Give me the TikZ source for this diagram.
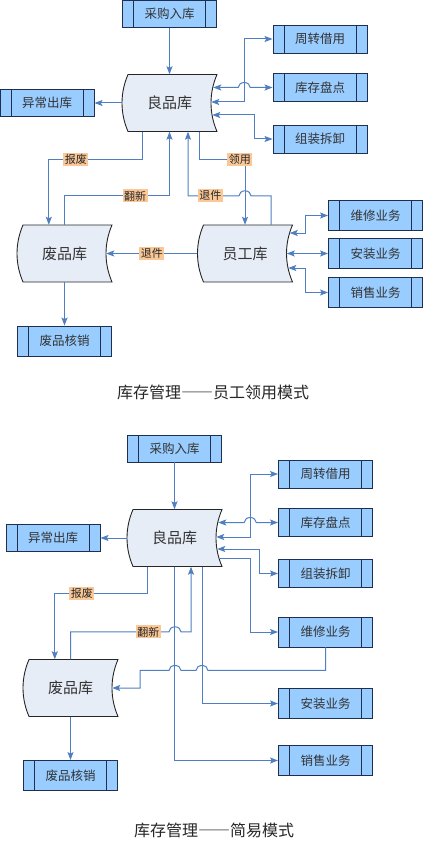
\documentclass[tikz,border=0pt]{standalone}
\usepackage{fontspec}
\setmainfont{Noto Sans CJK SC}
\usepackage{xcolor}
\usepackage{tikz}
\usetikzlibrary{arrows.meta, calc}
\definecolor{procfill}{HTML}{99CCFF}
\definecolor{procdraw}{HTML}{1F2F4F}
\definecolor{storefill}{HTML}{E7EDF7}
\definecolor{flowblue}{HTML}{4F7FC0}
\definecolor{tagorange}{HTML}{FAC796}
\tikzset{
  proc/.style={draw=procdraw, fill=procfill, line width=0.9pt,
    minimum width=94pt, minimum height=28pt, inner sep=0pt,
    text=black!80, font=\fontsize{12.5}{13}\selectfont,
    path picture={
      \draw[procdraw, line width=0.9pt]
        ([xshift=11pt]path picture bounding box.north west) --
        ([xshift=11pt]path picture bounding box.south west)
        ([xshift=-11pt]path picture bounding box.north east) --
        ([xshift=-11pt]path picture bounding box.south east);}},
  lowproc/.style={proc, minimum height=30pt},
  storeshape/.style={draw=black!85, fill=storefill, line width=0.9pt},
  storetext/.style={minimum width=95pt, minimum height=57pt, inner sep=0pt,
    text=black!80, font=\fontsize{15}{16}\selectfont},
  flow/.style={draw=flowblue, line width=1pt},
  tag/.style={fill=tagorange, inner sep=1.5pt, text=black!85,
    font=\fontsize{11}{12}\selectfont},
  caption/.style={text=black!85, font=\fontsize{16}{17}\selectfont}
}
% full width dashes for the captions
\newcommand{\fwdash}{{\addfontfeatures{RawFeature=+fwid}——}}
% stored data shape: name, x, y, text
\newcommand{\storebox}[4]{%
  \filldraw[storeshape] (#2-41.5,#3-28.5) -- (#2+47.5,#3-28.5)
    .. controls (#2+39.5,#3-10) and (#2+39.5,#3+10) .. (#2+47.5,#3+28.5)
    -- (#2-41.5,#3+28.5)
    .. controls (#2-49.5,#3+10) and (#2-49.5,#3-10) .. cycle;
  \node[storetext] (#1) at (#2,#3) {#4};}

\begin{document}
\begin{tikzpicture}[x=1pt, y=-1pt,
    >={Stealth[length=8pt, width=6pt, inset=1.5pt]}]
    \useasboundingbox (0,0) rectangle (424,842);
    % Mode 1: staff stock
    \storebox{lp1}{169.5}{103}{良品库}
    \storebox{fp1}{64.5}{253.5}{废品库}
    \storebox{yg1}{245}{253.5}{员工库}
    \node[proc, minimum height=27pt] (cg1) at (169.5,14) {采购入库};
    \node[proc] (zz1) at (320,39) {周转借用};
    \node[proc] (pd1) at (320,87.5) {库存盘点};
    \node[proc] (zx1) at (320,139) {组装拆卸};
    \node[proc, minimum height=27pt] (yc1) at (47,103) {异常出库};
    \node[lowproc] (wx1) at (375.5,215.5) {维修业务};
    \node[lowproc] (az1) at (375.5,253.5) {安装业务};
    \node[lowproc] (xs1) at (375.5,292.5) {销售业务};
    \node[lowproc] (hx1) at (64.5,341) {废品核销};
    \draw[flow, ->] (cg1.south) -- (lp1.north);
    \draw[flow, ->] (lp1.west) -- (yc1.east);
    \draw[flow, <->] ($(lp1.east)+(-6,-1)$) -- ++(33,0) |- (zz1.west);
    \draw[flow, <->] ($(lp1.east)+(-4,-15.5)$) -- ++(25,0)
      arc[start angle=180, end angle=360, x radius=6, y radius=5] -- (pd1.west);
    \draw[flow, <->] ($(lp1.east)+(-5,12)$) -- ++(42,0) |- (zx1.west);
    \draw[flow, ->] ($(lp1.south west)+(21,0)$) -- ++(0,28)
      -| node[tag, pos=0.356] {报废} ($(fp1.north west)+(32,0)$);
    \draw[flow, ->] (fp1.north) -- ++(0,-29)
      -| node[tag, pos=0.336] {翻新} (lp1.south);
    \draw[flow, ->] ($(lp1.south)+(29.5,0)$) -- ++(0,28)
      -| node[tag, pos=0.445] {领用} (yg1.north);
    \draw[flow, ->] ($(yg1.north)+(26,0)$) -- ++(0,-29) -- ++(-20,0)
      arc[start angle=0, end angle=-180, x radius=6, y radius=5]
      -| node[tag, pos=0.28] {退件} ($(lp1.south)+(18.5,0)$);
    \draw[flow, ->] (yg1.west) -- node[tag] {退件} ($(fp1.east)+(-6,0)$);
    \draw[flow, <->] ($(yg1.east)+(-3,-20.5)$) -- ++(15.5,0) |- (wx1.west);
    \draw[flow, <->] ($(yg1.east)+(-6,0)$) -- (az1.west);
    \draw[flow, <->] ($(yg1.east)+(-4.5,14.5)$) -- ++(17,0) |- (xs1.west);
    \draw[flow, ->] (fp1.south) -- (hx1.north);
    \node[caption] (cap1) at (213,392) {库存管理\fwdash 员工领用模式};
    % Mode 2: simple
    \storebox{lp2}{174.5}{538}{良品库}
    \storebox{fp2}{70.5}{688}{废品库}
    \node[proc, minimum height=27pt] (cg2) at (174.5,448.5) {采购入库};
    \node[proc] (zz2) at (325.5,474) {周转借用};
    \node[proc] (pd2) at (325.5,522.5) {库存盘点};
    \node[proc] (zx2) at (325.5,573.5) {组装拆卸};
    \node[proc, minimum height=27pt] (yc2) at (53,538) {异常出库};
    \node[lowproc] (wx2) at (325.5,632) {维修业务};
    \node[lowproc] (az2) at (325.5,703.5) {安装业务};
    \node[lowproc] (xs2) at (325.5,760.5) {销售业务};
    \node[lowproc] (hx2) at (70.5,775.5) {废品核销};
    \draw[flow, ->] (cg2.south) -- (lp2.north);
    \draw[flow, ->] (lp2.west) -- (yc2.east);
    \draw[flow, <->] ($(lp2.east)+(-6,-1)$) -- ++(34,0) |- (zz2.west);
    \draw[flow, <->] ($(lp2.east)+(-4,-15.5)$) -- ++(26,0)
      arc[start angle=180, end angle=360, x radius=6, y radius=5] -- (pd2.west);
    \draw[flow, <->] ($(lp2.east)+(-5,11)$) -- ++(42,0) |- (zx2.west);
    \draw[flow, ->] ($(lp2.east)+(-3,20)$) -- ++(31,0) |- (wx2.west);
    \draw[flow, ->] ($(lp2.south west)+(21,0)$) -- ++(0,26.5)
      -| node[tag, pos=0.355] {报废} ($(fp2.north west)+(32,0)$);
    \draw[flow, ->] (fp2.north) -- ++(0,-27.5)
      -- node[tag, pos=0.79] {翻新} ++(98.5,0)
      arc[start angle=180, end angle=360, x radius=6, y radius=5]
      -| ($(lp2.south)+(16.5,0)$);
    \draw[flow, ->] (lp2.south) |- (xs2.west);
    \draw[flow, ->] ($(lp2.south)+(27.5,0)$) |- (az2.west);
    \draw[flow, ->] (wx2.south) -- ++(0,23) -- ++(-117.5,0)
      arc[start angle=0, end angle=-180, x radius=6, y radius=5] -- ++(-15,0)
      arc[start angle=0, end angle=-180, x radius=6, y radius=5] -- ++(-29,0)
      |- ($(fp2.east)+(-6,0)$);
    \draw[flow, ->] (fp2.south) -- (hx2.north);
    \node[caption] (cap2) at (214,830) {库存管理\fwdash 简易模式};
\end{tikzpicture}
\end{document}
